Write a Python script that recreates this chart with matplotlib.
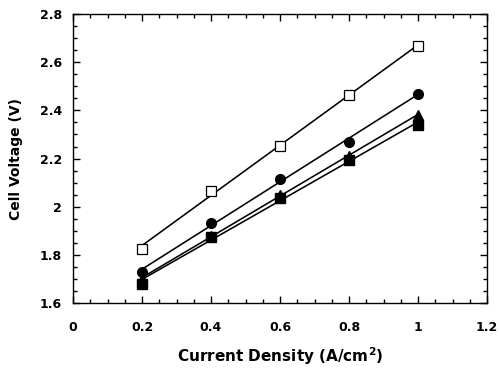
import numpy as np
import matplotlib
matplotlib.use("Agg")
import matplotlib.pyplot as plt
from matplotlib.ticker import MultipleLocator

plt.rcParams['font.family'] = ['DejaVu Sans']
plt.rcParams['mathtext.fontset'] = 'dejavusans'

current = [0.2, 0.4, 0.6, 0.8, 1.0]
open_square = [1.824, 2.067, 2.253, 2.466, 2.666]
circle = [1.730, 1.934, 2.113, 2.269, 2.470]
triangle = [1.700, 1.880, 2.050, 2.210, 2.382]
filled_square = [1.680, 1.876, 2.037, 2.192, 2.339]

fig = plt.figure(figsize=(5.0, 3.71), dpi=100)
ax = fig.add_axes([0.146, 0.1833, 0.828, 0.7787])

series = [
    (open_square, dict(marker='s', mfc='white', mec='black', ms=6.8, mew=0.9)),
    (circle, dict(marker='o', mfc='black', mec='black', ms=7.0)),
    (triangle, dict(marker='^', mfc='black', mec='black', ms=7.5)),
    (filled_square, dict(marker='s', mfc='black', mec='black', ms=6.8)),
]
x = np.array(current)
for ys, st in series:
    k, b = np.polyfit(x, ys, 1)
    ax.plot(x, k * x + b, color='black', lw=1.15, zorder=2)
    ax.plot(x, ys, ls='none', zorder=3, **st)

ax.set_xlim(0, 1.2)
ax.set_ylim(1.6, 2.8)
ax.xaxis.set_minor_locator(MultipleLocator(0.05))
ax.yaxis.set_minor_locator(MultipleLocator(0.05))
ax.set_xticks([0, 0.2, 0.4, 0.6, 0.8, 1.0, 1.2])
ax.set_xticklabels(['0', '0.2', '0.4', '0.6', '0.8', '1', '1.2'])
ax.set_yticks([1.6, 1.8, 2.0, 2.2, 2.4, 2.6, 2.8])
ax.set_yticklabels(['1.6', '1.8', '2', '2.2', '2.4', '2.6', '2.8'])
ax.tick_params(which='both', direction='in', top=True, right=True, width=1.0)
ax.tick_params(which='major', length=5, labelsize=9)
ax.tick_params(axis='x', which='major', pad=13)
ax.tick_params(axis='y', which='major', pad=8)
ax.tick_params(which='minor', length=3)
for lab in ax.get_xticklabels() + ax.get_yticklabels():
    lab.set_fontweight('bold')
for sp in ax.spines.values():
    sp.set_linewidth(1.0)

ax.set_xlabel('Current Density (A/cm$^\\mathbf{2}$)', fontsize=11, fontweight='bold', labelpad=8)
ax.set_ylabel('Cell Voltage (V)', fontsize=10, fontweight='bold', labelpad=12)

fig.savefig('out.png', dpi=100)
